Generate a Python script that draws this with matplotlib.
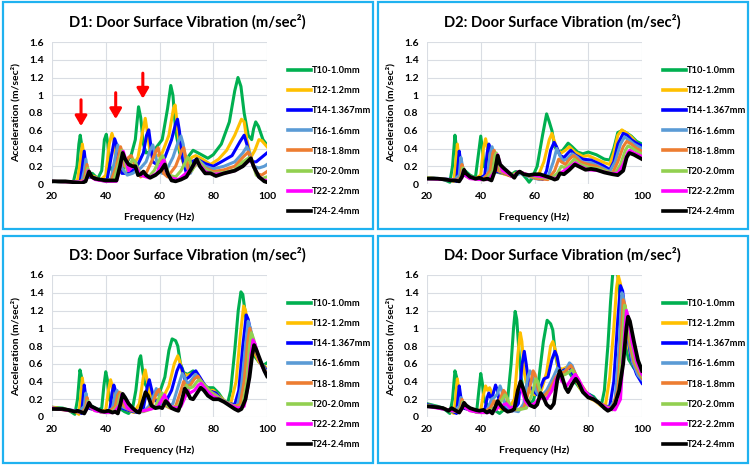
import matplotlib
matplotlib.use("Agg")
import matplotlib.pyplot as plt
from matplotlib.patches import Rectangle
from matplotlib.ticker import FuncFormatter

plt.rcParams['font.family'] = ['Lato', 'DejaVu Sans']
plt.rcParams['font.weight'] = 'bold'

# series names and colours (same in every panel)
labels = ["T10-1.0mm", "T12-1.2mm", "T14-1.367mm", "T16-1.6mm",
          "T18-1.8mm", "T20-2.0mm", "T22-2.2mm", "T24-2.4mm"]
colors = ["#00B050", "#FFC000", "#0000FF", "#5B9BD5",
          "#ED7D31", "#92D050", "#FF00FF", "#000000"]
titles = ["D1: Door Surface Vibration (m/sec²)", "D2: Door Surface Vibration (m/sec²)",
          "D3: Door Surface Vibration (m/sec²)", "D4: Door Surface Vibration (m/sec²)"]

# ---- D1 (frequency Hz, acceleration m/s^2) ----
d1_t10 = [(20,.03),(26,.02),(28,.03),(29.3,.2),(30,.45),(30.5,.55),(31,.45),(31.7,.15),(33,.1),(35,.12),(37,.06),(38.5,.15),(39.5,.5),(40.2,.56),(40.8,.45),(41.5,.2),(43,.12),(46,.15),(48,.25),(49.5,.33),(51,.5),(52.2,.87),(53,.75),(54,.45),(55,.35),(58,.38),(61,.5),(63,.85),(64.2,1.11),(65,1.0),(66,.6),(67.5,.35),(69.5,.2),(71,.32),(72.5,.38),(75,.34),(78,.29),(80,.33),(83,.45),(86,.7),(88,1.05),(89.2,1.2),(90.3,1.1),(91.5,.8),(93,.55),(94.3,.5),(95,.62),(95.8,.7),(96.8,.65),(98.5,.5),(100,.44)]
d1_t12 = [(20,.03),(28,.02),(29.5,.04),(30.5,.25),(31.3,.45),(31.9,.3),(32.5,.12),(34,.1),(36,.08),(38,.04),(40,.1),(41.3,.45),(42.3,.57),(43,.5),(43.8,.25),(45,.15),(48,.12),(50,.2),(52,.3),(53.8,.6),(54.7,.74),(55.4,.6),(56.5,.35),(58,.3),(61,.35),(63.5,.55),(65.2,.85),(65.8,.89),(66.5,.7),(67.5,.4),(69,.22),(70.5,.2),(72,.3),(73.5,.32),(76,.28),(79,.22),(82,.28),(85,.38),(88,.55),(90.5,.73),(91.5,.7),(92.5,.5),(94,.3),(95.5,.38),(97,.5),(98,.49),(100,.42)]
d1_t14 = [(20,.03),(28,.02),(30.5,.03),(31.3,.2),(32,.37),(32.6,.2),(33.5,.08),(36,.07),(38,.04),(40.5,.05),(42,.3),(43.3,.51),(44,.45),(44.8,.2),(46,.12),(48,.12),(50,.15),(52,.22),(54,.35),(55.2,.55),(56,.61),(56.7,.45),(57.5,.25),(59,.22),(62,.3),(64.5,.5),(66,.68),(66.7,.73),(67.4,.6),(68.5,.3),(70,.12),(72,.25),(74,.28),(77,.23),(80,.2),(83,.25),(87,.32),(90,.48),(91.5,.55),(92.5,.45),(94,.25),(96,.25),(98,.3),(100,.35)]
d1_t16 = [(20,.03),(29,.02),(31,.02),(32,.15),(32.6,.28),(33.2,.15),(34.5,.08),(37,.05),(40,.03),(42,.06),(43.5,.3),(44.5,.44),(45.2,.35),(46,.18),(48,.1),(50,.12),(53,.18),(55,.25),(56.5,.38),(57.5,.44),(58.3,.35),(59.5,.18),(61,.12),(63,.18),(65,.3),(67,.48),(68,.54),(68.8,.45),(70,.2),(71.5,.12),(73,.22),(74.5,.27),(77,.2),(80,.17),(84,.2),(88,.25),(91,.35),(92.5,.42),(93.5,.35),(95,.2),(97,.18),(99,.2),(100,.22)]
d1_t18 = [(20,.03),(30,.02),(32,.05),(33,.22),(33.6,.12),(35,.07),(38,.04),(42,.04),(44,.2),(45.5,.42),(46.2,.35),(47,.2),(48.5,.3),(49.5,.32),(51,.2),(53,.08),(55,.12),(57,.25),(58.8,.38),(59.5,.41),(60.2,.3),(61.5,.12),(63,.08),(66,.2),(68.3,.38),(69,.41),(69.8,.3),(71,.12),(73,.2),(74.5,.25),(77,.18),(80,.14),(84,.16),(88,.2),(91,.3),(93,.36),(94,.3),(96,.12),(98,.1),(100,.14)]
d1_t20 = [(20,.03),(31,.02),(32.5,.06),(33.3,.18),(34,.1),(36,.06),(40,.03),(43,.04),(45,.25),(46,.38),(46.7,.3),(48,.15),(50,.28),(51,.25),(53,.1),(56,.08),(58,.15),(60.5,.3),(61.2,.32),(62,.25),(63.5,.1),(66,.08),(68,.15),(70.5,.3),(71.3,.28),(72,.15),(73,.2),(74.5,.27),(77,.17),(80,.12),(84,.13),(88,.16),(91,.25),(93.5,.3),(94.5,.25),(96,.1),(98,.06),(100,.08)]
d1_t22 = [(20,.03),(31,.02),(32.8,.05),(33.5,.15),(34.2,.09),(36,.05),(40,.03),(44,.03),(45.5,.2),(46.5,.37),(47.2,.3),(48.5,.15),(50,.2),(51.5,.18),(53,.1),(56,.07),(59,.12),(61,.25),(61.7,.27),(62.5,.15),(64,.07),(67,.05),(69,.1),(71,.15),(73,.22),(74,.27),(75,.22),(77,.14),(80,.11),(84,.12),(88,.15),(91,.2),(94,.28),(95,.2),(97,.08),(99,.04),(100,.04)]
d1_t24 = [(20,.03),(25,.03),(28,.02),(31,.01),(32.5,.03),(33.8,.14),(34.8,.08),(36,.06),(38,.05),(40,.04),(42,.04),(44,.04),(45.3,.2),(46.3,.35),(47.2,.28),(48.5,.22),(50,.2),(51,.2),(52,.1),(53,.11),(54,.14),(55,.1),(56.5,.07),(58.5,.1),(60.5,.15),(62,.22),(63,.12),(64.5,.04),(66,.03),(68,.05),(70,.08),(72,.18),(73.8,.28),(75,.2),(77,.12),(79,.12),(81,.09),(84,.12),(88,.15),(91,.2),(93,.26),(94,.29),(95,.2),(97,.08),(99,.03),(100,.02)]

# ---- D2 ----
d2_t10 = [(20,.07),(25,.06),(27,.04),(28.5,.02),(29.5,.2),(30.4,.55),(31,.4),(31.6,.15),(33,.13),(34.5,.14),(36,.1),(38,.07),(39.2,.35),(40,.54),(40.6,.4),(41.2,.2),(42.5,.15),(45,.14),(48,.12),(51,.1),(53,.14),(55,.13),(57,.06),(58,.02),(59,.06),(61,.2),(63,.55),(64.5,.79),(65.5,.7),(66.5,.6),(67.5,.42),(69,.36),(70.5,.38),(72.5,.46),(74,.42),(76,.36),(78,.34),(80,.36),(83,.33),(86,.28),(88,.27),(89.5,.4),(91,.58),(92.5,.6),(94,.58),(96,.54),(98,.48),(100,.45)]
d2_t12 = [(20,.07),(28,.05),(30,.03),(30.6,.2),(31.3,.45),(31.8,.3),(32.5,.12),(35,.1),(38,.06),(40,.1),(41,.4),(41.8,.51),(42.4,.42),(43.2,.2),(45,.15),(48,.12),(51,.09),(53,.12),(56,.12),(59,.08),(61.5,.1),(63.5,.25),(65.5,.5),(66.5,.57),(67.2,.5),(68.5,.38),(70,.35),(71.5,.38),(73,.42),(75,.36),(78,.31),(80,.32),(83,.28),(86,.24),(88,.22),(89.5,.35),(91,.55),(92.5,.61),(94,.58),(96,.53),(98,.46),(100,.42)]
d2_t14 = [(20,.07),(29,.05),(31,.03),(31.5,.2),(32,.37),(32.5,.25),(33.5,.1),(36,.08),(39,.05),(41.5,.1),(42.4,.35),(43,.45),(43.6,.38),(44.5,.18),(46,.14),(49,.12),(52,.08),(54,.13),(57,.1),(60,.07),(63,.05),(64.5,.15),(66,.38),(67.3,.47),(68.2,.42),(69.5,.32),(71,.3),(72.5,.35),(73.5,.38),(75,.33),(78,.28),(81,.27),(84,.23),(86,.2),(88,.16),(89.5,.25),(91,.45),(93,.57),(94.5,.55),(96,.5),(98,.46),(100,.43)]
d2_t16 = [(20,.07),(30,.04),(32,.1),(32.6,.3),(33.2,.2),(34.5,.1),(37,.07),(40,.05),(42.5,.1),(43.6,.35),(44.2,.42),(44.8,.35),(45.5,.2),(47,.14),(50,.12),(53,.1),(55,.12),(58,.08),(62,.05),(65,.08),(67,.25),(68.3,.4),(69,.35),(70.5,.26),(72,.28),(74,.34),(76,.3),(78,.24),(81,.24),(84,.2),(88,.14),(90,.25),(92,.45),(93.5,.53),(95,.5),(97,.45),(100,.4)]
d2_t18 = [(20,.07),(31,.04),(32.5,.08),(33,.22),(33.6,.15),(35,.08),(38,.06),(41,.05),(43.5,.15),(44.5,.35),(45,.38),(45.6,.3),(46.5,.15),(49,.12),(52,.08),(54,.14),(57,.1),(61,.06),(65,.05),(67.5,.15),(69,.28),(70,.25),(71.5,.22),(73,.28),(74.5,.32),(77,.25),(80,.22),(83,.2),(87,.14),(89,.12),(91,.25),(93,.42),(94.3,.48),(96,.45),(98,.4),(100,.37)]
d2_t20 = [(20,.07),(31.5,.04),(32.8,.08),(33.3,.18),(33.9,.12),(35.5,.07),(39,.05),(42,.05),(44.5,.15),(45.3,.32),(45.8,.35),(46.4,.28),(47.5,.15),(50,.12),(53,.1),(54.5,.14),(57,.1),(61,.08),(66,.06),(68.5,.12),(70,.2),(71.5,.18),(73,.22),(74.8,.28),(77,.22),(80,.19),(84,.17),(88,.13),(90,.12),(92,.22),(93.8,.38),(94.8,.43),(96.5,.4),(98,.37),(100,.34)]
d2_t22 = [(20,.06),(32,.04),(33,.07),(33.5,.15),(34.1,.1),(36,.06),(40,.05),(43,.05),(45.5,.15),(46.3,.33),(46.9,.26),(48,.15),(50,.12),(52,.08),(54,.14),(57,.11),(61,.09),(66,.07),(68,.06),(69.5,.12),(71,.15),(73.5,.2),(75.2,.24),(77,.2),(80,.16),(84,.15),(88,.12),(91,.12),(93,.22),(94.8,.36),(95.5,.38),(97,.35),(100,.31)]
d2_t24 = [(20,.06),(24,.06),(27,.05),(29,.04),(30.5,.04),(32,.03),(33,.08),(33.8,.16),(34.5,.12),(36,.08),(38,.06),(39.5,.07),(41,.05),(42.5,.06),(44,.04),(45.3,.15),(46.3,.32),(47.2,.22),(48.5,.18),(50,.14),(51.5,.1),(52.5,.07),(53.5,.12),(54.5,.14),(56,.11),(58,.1),(60,.11),(62,.11),(64,.09),(66,.07),(67.5,.05),(68.5,.06),(69.5,.12),(71,.11),(73,.16),(75,.22),(77,.19),(79,.16),(81,.17),(83,.16),(86,.13),(89,.11),(91,.1),(93,.15),(94.3,.3),(95.3,.35),(97,.33),(100,.28)]

# ---- D3 ----
d3_t10 = [(20,.11),(24,.1),(26,.08),(28.5,.03),(29.5,.2),(30.4,.53),(31,.45),(31.7,.2),(33,.13),(35,.12),(37,.08),(38.5,.1),(39.3,.35),(40,.51),(40.6,.42),(41.3,.2),(43,.13),(45,.1),(47,.06),(48.5,.04),(50,.1),(51.2,.3),(52.5,.65),(53,.69),(53.6,.55),(54.5,.38),(56,.3),(58,.24),(60,.27),(62,.45),(63.5,.75),(64.7,.88),(66,.86),(66.8,.8),(67.8,.6),(69,.5),(70.5,.48),(72.5,.52),(74,.46),(76,.38),(78,.33),(80,.33),(82,.27),(84,.18),(85.3,.15),(86.5,.3),(88,.75),(89.3,1.2),(90.3,1.41),(91,1.38),(92,1.15),(93.5,.85),(95,.7),(97,.62),(98.5,.58),(100,.61)]
d3_t12 = [(20,.11),(28,.07),(30,.03),(30.6,.2),(31.3,.44),(31.8,.3),(32.5,.14),(35,.1),(38,.06),(40,.08),(41,.3),(41.8,.42),(42.4,.35),(43.3,.15),(45,.12),(48,.08),(50.5,.05),(52.5,.15),(54,.45),(54.7,.53),(55.4,.42),(56.5,.25),(58,.2),(61,.2),(63.5,.35),(65.5,.6),(66.8,.69),(67.6,.62),(68.5,.5),(70,.47),(71.5,.48),(73,.5),(75,.42),(78,.3),(80,.3),(82.5,.23),(85,.16),(86.5,.15),(88.5,.4),(90,.9),(91.3,1.25),(92,1.2),(93,1.0),(95,.75),(97,.62),(100,.55)]
d3_t14 = [(20,.1),(29,.07),(31,.04),(31.5,.2),(32,.36),(32.6,.22),(33.5,.1),(36,.08),(39,.05),(41.5,.08),(42.4,.28),(43,.36),(43.6,.3),(44.5,.15),(46,.1),(49,.07),(52,.05),(54,.1),(55.5,.35),(56.2,.42),(56.9,.33),(58,.2),(60,.15),(62.5,.18),(64.5,.3),(66.5,.52),(67.5,.59),(68.3,.55),(69.5,.42),(71,.45),(72.5,.5),(73.5,.52),(75,.45),(78,.3),(81,.27),(83,.2),(86,.15),(88,.14),(89.5,.3),(91,.8),(92.3,1.15),(93,1.1),(94,.95),(96,.72),(98,.6),(100,.52)]
d3_t16 = [(20,.1),(30,.06),(32,.12),(32.6,.27),(33.2,.18),(34.5,.1),(37,.07),(40,.05),(42.5,.1),(43.5,.25),(44.2,.3),(44.8,.25),(45.8,.12),(48,.09),(51,.06),(54,.06),(56,.12),(58,.25),(58.8,.32),(59.5,.26),(61,.15),(63,.12),(65,.15),(67,.35),(68.5,.49),(69.3,.45),(70.5,.37),(72,.42),(73.5,.48),(75,.42),(78,.3),(81,.25),(84,.18),(87,.13),(89,.13),(90.5,.35),(92,.8),(93,1.08),(93.8,1.0),(95,.85),(97,.65),(100,.5)]
d3_t18 = [(20,.1),(31,.05),(32.5,.1),(33,.22),(33.6,.15),(35,.09),(38,.06),(41,.05),(43.5,.12),(44.5,.25),(45.1,.28),(45.7,.22),(46.8,.12),(49,.08),(52,.06),(55,.07),(57,.12),(59,.28),(59.8,.31),(60.5,.25),(62,.13),(64,.1),(66,.12),(68,.3),(69,.4),(69.8,.35),(71.5,.36),(73,.43),(74.3,.46),(76,.38),(79,.28),(82,.22),(85,.16),(88,.12),(90,.14),(91.5,.4),(92.8,.85),(93.6,1.0),(94.3,.92),(96,.72),(98,.58),(100,.49)]
d3_t20 = [(20,.1),(31.5,.05),(32.8,.1),(33.3,.18),(33.9,.13),(35.5,.08),(39,.05),(42,.05),(44.5,.12),(45.3,.24),(45.8,.27),(46.4,.22),(47.5,.12),(50,.08),(53,.06),(56,.08),(58.5,.12),(60.3,.25),(61,.27),(61.7,.22),(63,.12),(65,.1),(67,.12),(69,.25),(70,.36),(70.8,.32),(72.5,.34),(74,.4),(75,.42),(77,.35),(80,.25),(83,.2),(86,.15),(89,.1),(91,.14),(92.5,.4),(93.5,.8),(94.2,.95),(95,.88),(96.5,.7),(98,.58),(100,.48)]
d3_t22 = [(20,.1),(32,.05),(33,.09),(33.5,.16),(34.1,.12),(36,.07),(40,.05),(43,.05),(45.3,.14),(46,.26),(46.6,.2),(48,.1),(51,.07),(54,.07),(57,.09),(59.5,.12),(61,.2),(61.9,.25),(62.6,.2),(64,.12),(66,.1),(68,.12),(69.5,.22),(70.5,.3),(71.3,.27),(73,.3),(74.5,.36),(75.5,.38),(77.5,.3),(80,.23),(83,.19),(86,.14),(89,.1),(91.5,.12),(93,.35),(94,.7),(94.8,.87),(95.6,.82),(97,.66),(98.5,.55),(100,.47)]
d3_t24 = [(20,.09),(24,.09),(26,.08),(28.5,.06),(29.5,.07),(30.5,.06),(32,.04),(33,.1),(33.8,.16),(34.6,.12),(36,.1),(38,.07),(39.5,.06),(41,.07),(42.5,.05),(43.5,.06),(44.5,.04),(45.5,.15),(46.3,.26),(47.2,.22),(48.5,.15),(50,.1),(51.5,.06),(52.5,.05),(53.5,.15),(54.8,.28),(55.7,.24),(57,.13),(58.5,.1),(60,.11),(61,.1),(62.3,.18),(63.2,.15),(64.5,.1),(66,.08),(67,.07),(68,.15),(69.4,.32),(70.3,.28),(71.5,.21),(72.5,.2),(74,.27),(75.3,.33),(76.5,.3),(78,.24),(80,.2),(82,.2),(84,.17),(86,.13),(88,.09),(89.3,.07),(90.5,.09),(92,.2),(93.5,.45),(94.5,.7),(95.2,.81),(96,.76),(97.5,.64),(99,.52),(100,.46)]

# ---- D4 ----
d4_t10 = [(20,.15),(24,.12),(26,.1),(28.5,.04),(29.5,.2),(30.4,.52),(31,.45),(31.7,.2),(33,.13),(35,.12),(37,.08),(38.5,.07),(39.3,.3),(40,.49),(40.6,.38),(41.3,.18),(43,.12),(45,.08),(47,.04),(48.5,.08),(50,.2),(51.3,.6),(52.2,1.0),(52.8,1.19),(53.4,1.1),(54.2,.75),(55,.45),(56,.28),(57.5,.15),(59.5,.18),(61.5,.4),(63.3,.85),(64.7,1.09),(66,1.05),(66.8,.98),(67.8,.7),(69,.52),(71,.5),(73,.5),(75,.4),(78,.28),(80,.26),(82,.23),(83.8,.16),(85,.15),(86,.3),(87.3,.8),(88.3,1.3),(89.2,1.65),(90,1.8),(91,1.6),(92.3,1.2),(93.5,.85),(95,.65),(97,.55),(99,.55),(100,.57)]
d4_t12 = [(20,.14),(28,.08),(30,.04),(30.6,.2),(31.3,.43),(31.8,.3),(32.5,.14),(35,.1),(38,.06),(40,.08),(41,.25),(41.8,.35),(42.5,.3),(43.3,.33),(44,.28),(45,.15),(47,.1),(50,.07),(52.5,.2),(53.8,.7),(54.7,.95),(55.3,.85),(56.2,.5),(57.5,.3),(60,.25),(62.5,.3),(64.5,.5),(66,.8),(66.8,.85),(67.8,.75),(68.8,.55),(70.5,.54),(72.5,.57),(74.5,.48),(77,.32),(80,.22),(82.5,.18),(85,.12),(86.5,.15),(88,.45),(89.5,1.0),(90.5,1.45),(91.2,1.59),(92,1.5),(93,1.2),(94.5,.85),(96.5,.6),(98.5,.5),(100,.45)]
d4_t14 = [(20,.14),(29,.07),(31,.04),(31.5,.2),(32,.35),(32.6,.22),(33.5,.1),(36,.08),(39,.05),(41.5,.08),(42.4,.22),(43,.27),(43.6,.22),(44.5,.25),(45.5,.36),(46.2,.3),(47,.15),(49,.09),(52,.07),(54,.15),(55.4,.6),(56.2,.74),(56.9,.6),(58,.35),(59.5,.3),(61,.25),(62.5,.35),(63.5,.43),(65,.45),(66.5,.65),(67.6,.74),(68.4,.68),(69.5,.5),(71,.53),(73,.55),(75,.45),(78,.3),(80.5,.25),(83,.18),(86,.12),(88,.12),(89.5,.4),(91,1.1),(92,1.48),(92.8,1.42),(94,1.05),(96,.65),(98,.48),(100,.38)]
d4_t16 = [(20,.13),(30,.06),(32,.12),(32.6,.22),(33.2,.16),(34.5,.1),(37,.07),(40,.05),(42.5,.08),(44,.2),(45,.22),(46,.25),(47.2,.35),(47.8,.3),(48.8,.15),(51,.08),(54,.06),(56,.15),(57.5,.45),(58.3,.52),(59,.48),(60.5,.3),(62,.22),(64.5,.3),(67,.45),(68.5,.55),(69.5,.5),(71.5,.52),(73,.61),(74,.58),(76,.42),(79,.28),(82,.2),(85,.13),(88,.1),(90,.2),(91.5,.8),(92.5,1.4),(93.2,1.33),(94.5,.95),(96.5,.62),(98.5,.47),(100,.42)]
d4_t18 = [(20,.13),(31,.06),(32.5,.1),(33,.2),(33.6,.15),(35,.09),(38,.06),(41,.05),(43.5,.1),(45,.18),(46.5,.15),(48.5,.3),(49.2,.27),(50.5,.12),(53,.08),(56,.1),(58,.3),(59.5,.52),(60.2,.48),(61.5,.3),(63,.22),(65.5,.3),(68,.45),(69.5,.5),(71,.5),(73.5,.58),(75,.5),(77,.38),(80,.25),(83,.18),(86,.12),(89,.1),(91,.3),(92.3,.9),(93,1.32),(93.8,1.25),(95,.9),(97,.62),(99,.49),(100,.44)]
d4_t20 = [(20,.13),(31.5,.06),(32.8,.1),(33.3,.17),(33.9,.12),(35.5,.08),(39,.05),(42,.05),(45,.1),(47,.15),(49,.25),(49.8,.22),(51,.12),(54,.08),(57,.1),(59,.25),(60.5,.43),(61.2,.4),(62.5,.25),(64,.2),(66.5,.3),(69,.45),(71.5,.48),(74,.53),(75.3,.47),(77.5,.33),(80,.24),(83,.18),(86,.12),(89,.08),(91.5,.3),(93,1.0),(93.5,1.26),(94.3,1.18),(95.5,.9),(97.5,.62),(100,.46)]
d4_t22 = [(20,.12),(32,.06),(33,.09),(33.5,.15),(34.1,.11),(36,.07),(40,.05),(43,.05),(45.5,.08),(47,.12),(49.5,.15),(51,.1),(52.5,.12),(53.8,.3),(54.5,.37),(55.3,.3),(56.5,.18),(58,.13),(60,.15),(61.5,.2),(63,.22),(64.5,.2),(66.5,.3),(68,.42),(69,.48),(70.2,.4),(72,.35),(74,.44),(75.2,.48),(76.5,.42),(78.5,.3),(81,.22),(84,.16),(87,.1),(90,.08),(92,.2),(93.2,.8),(94.2,1.2),(95,1.12),(96.2,.85),(98,.62),(100,.48)]
d4_t24 = [(20,.12),(24,.11),(26,.1),(28,.07),(29.2,.1),(30.3,.08),(32,.05),(33,.1),(33.8,.16),(34.6,.13),(36,.1),(38,.08),(39.5,.07),(41,.08),(42.3,.05),(43.3,.07),(44.3,.04),(45.5,.12),(46.3,.18),(47.2,.14),(48.5,.09),(50,.06),(51.5,.07),(52.5,.09),(53.8,.3),(54.8,.4),(55.7,.33),(57,.2),(58.5,.13),(60,.11),(61,.14),(62.3,.27),(63.3,.22),(64.5,.14),(66,.1),(67.2,.15),(68.5,.42),(69.4,.52),(70.3,.45),(71.5,.33),(72.5,.28),(74,.37),(75.4,.43),(76.5,.38),(78,.28),(80,.22),(82,.2),(84,.16),(86,.1),(87.3,.07),(88.5,.09),(90,.15),(91.5,.3),(93,.6),(94.2,1.0),(94.8,1.13),(95.5,1.08),(97,.85),(98.5,.64),(100,.52)]

panels = [
    [d1_t10, d1_t12, d1_t14, d1_t16, d1_t18, d1_t20, d1_t22, d1_t24],
    [d2_t10, d2_t12, d2_t14, d2_t16, d2_t18, d2_t20, d2_t22, d2_t24],
    [d3_t10, d3_t12, d3_t14, d3_t16, d3_t18, d3_t20, d3_t22, d3_t24],
    [d4_t10, d4_t12, d4_t14, d4_t16, d4_t18, d4_t20, d4_t22, d4_t24],
]

# red arrows in D1: (freq, start, tip)
arrows = [(30.8, 0.98, 0.62), (43.7, 1.06, 0.70), (53.8, 1.28, 0.93)]

W, H = 750, 467
fig = plt.figure(figsize=(7.5, 4.67), dpi=100)

def fx(px):
    return px / W

def fy(py):
    return 1 - py / H

for k, series in enumerate(panels):
    ox = 375 * (k % 2)
    oy = 233 * (k // 2)

    # blue frame around each panel
    fig.patches.append(Rectangle((fx(ox + 3), fy(oy + 229.5)), fx(369.5), (227) / H,
                                 transform=fig.transFigure, fill=False,
                                 edgecolor="#1FB2F0", lw=1.6))
    fig.text(fx(ox + 187.5), fy(oy + 22), titles[k], ha="center", va="center",
             fontsize=10.6, fontweight="bold")

    ax = fig.add_axes([fx(ox + 52), fy(oy + 184), fx(215), 142 / H])
    handles = []
    for pts, lab, col in zip(series, labels, colors):
        xs = [p[0] for p in pts]
        ys = [p[1] for p in pts]
        lw = 2.7 if col == "#000000" else 2.2
        h, = ax.plot(xs, ys, color=col, lw=lw, label=lab, solid_joinstyle="round")
        handles.append(h)

    ax.set_xlim(20, 100)
    ax.set_ylim(0, 1.6)
    ax.set_xticks([20, 40, 60, 80, 100])
    ax.set_yticks([0, 0.2, 0.4, 0.6, 0.8, 1.0, 1.2, 1.4, 1.6])
    ax.yaxis.set_major_formatter(FuncFormatter(lambda v, _: f"{v:g}"))
    ax.grid(True, color="#D9DDE3", lw=0.8)
    ax.set_axisbelow(True)
    for s in ax.spines.values():
        s.set_visible(False)
    ax.tick_params(length=0, labelsize=7.5, pad=6)
    for t in ax.get_xticklabels() + ax.get_yticklabels():
        t.set_fontweight("bold")
    ax.set_xlabel("Frequency (Hz)", fontsize=7.5, fontweight="bold")
    ax.set_ylabel("Acceleration (m/sec²)", fontsize=7.5, fontweight="bold")
    ax.xaxis.set_label_coords(0.5, -0.197)
    ax.yaxis.set_label_coords(-0.146, 0.5)

    leg = ax.legend(handles=handles, loc="upper left",
                    bbox_to_anchor=(fx(ox + 288), fy(oy + 66)),
                    bbox_transform=fig.transFigure, frameon=False,
                    fontsize=6.7, handlelength=2.5, handletextpad=0.1,
                    labelspacing=1.2, borderpad=0, borderaxespad=0)
    for t in leg.get_texts():
        t.set_fontweight("bold")
    for lh in leg.get_lines():
        lh.set_linewidth(2.6)

    if k == 0:
        for f, y0, y1 in arrows:
            ax.annotate("", xy=(f, y1), xytext=(f, y0),
                        arrowprops=dict(arrowstyle="-|>,head_width=0.35,head_length=0.6",
                                        color="#FF0000", lw=2.2))

fig.savefig("out.png", dpi=100)
